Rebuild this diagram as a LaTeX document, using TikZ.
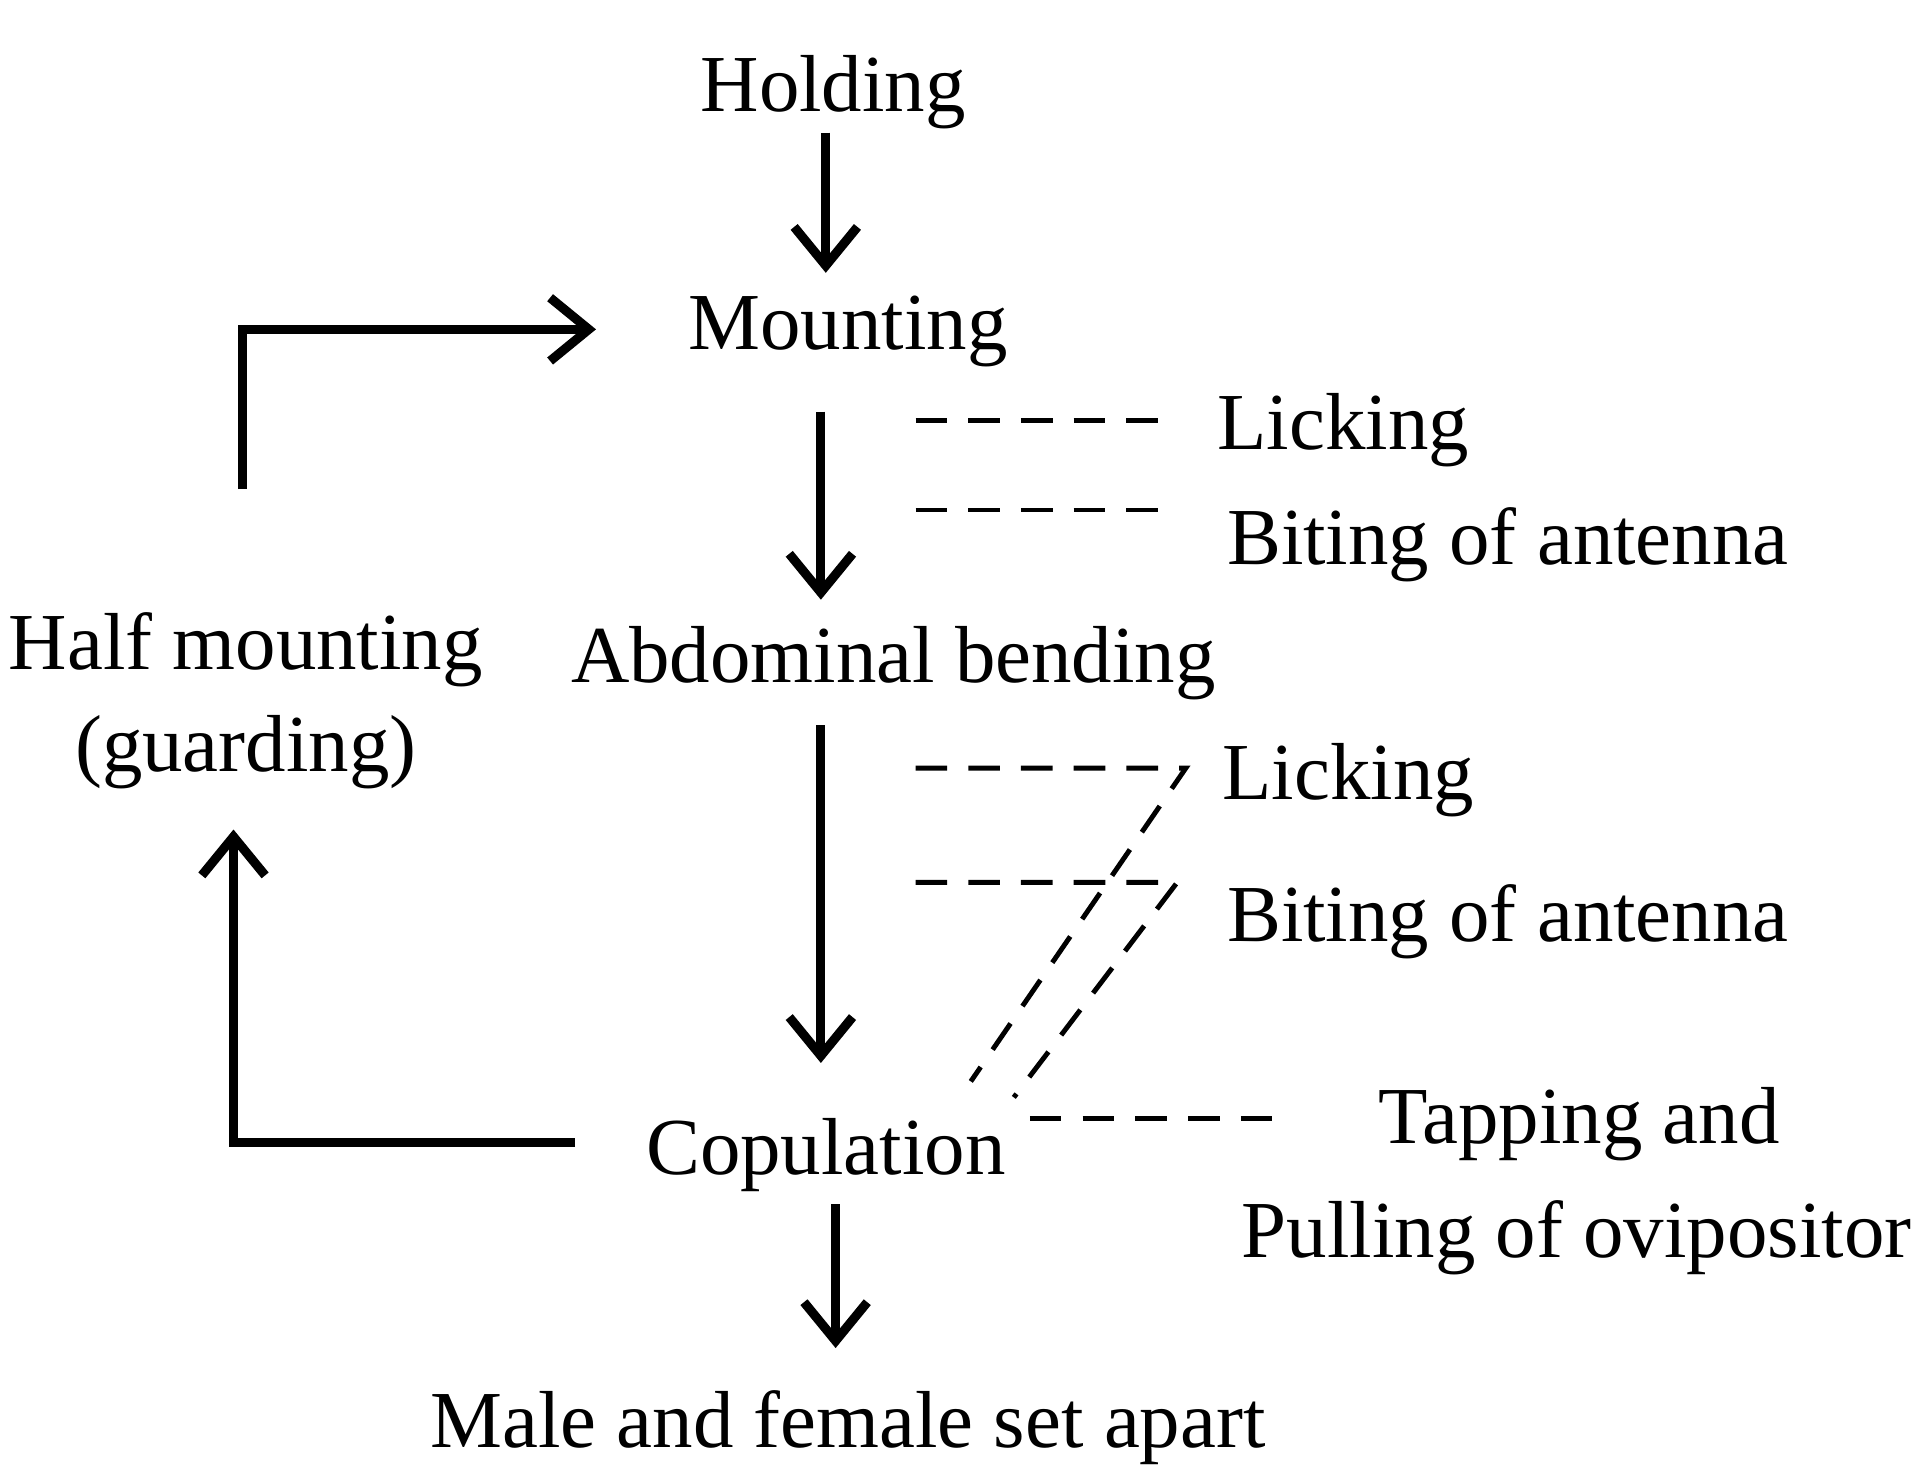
\documentclass[tikz,border=0pt]{standalone}
\usepackage{fontspec}
\setmainfont{Liberation Serif}
\usetikzlibrary{arrows.meta}

\begin{document}
\begin{tikzpicture}
  [x=0.01229cm,y=-0.01229cm,every node/.style={inner sep=1pt,align=center,font=\fontsize{23}{29}\selectfont},
   flow/.style={line width=2.6pt,-{Straight Barb[length=11pt,width=18pt,line width=2.6pt]}},
   side/.style={line width=1.4pt,dash pattern=on 9pt off 6pt}]
  \useasboundingbox (0,0) rectangle (1560,1201);
  \node (n1) at (678,75) {Holding};
  \node (n2) at (690,270) {Mounting};
  \node (n3) at (727,540) {Abdominal bending};
  \node (n4) at (672,940) {Copulation};
  \node (n5) at (690,1162) {Male and female set apart};
  \node (n6) at (200,570) {Half mounting\\(guarding)};
  \node (l1) at (1093,350) {Licking};
  \node (b1) at (1227,443) {Biting of antenna};
  \node (l2) at (1097,635) {Licking};
  \node (b2) at (1227,750) {Biting of antenna};
  \node (t1) at (1285,915) {Tapping and};
  \node (t2) at (1283,1007) {Pulling of ovipositor};
  \coordinate (c1) at (190,930);
  \coordinate (c2) at (197,268);
  \draw [flow] (672,108) -- (672,222);
  \draw [flow] (668,335) -- (668,488);
  \draw [flow] (668,590) -- (668,865);
  \draw [flow] (680,980) -- (680,1097);
  \draw [flow] (468,930) -- (c1) -- (190,675);
  \draw [flow] (197,398) -- (c2) -- (485,268);
  \draw [side] (745,342) -- (958,342);
  \draw [side] (745,415) -- (958,415);
  \draw [side] (745,625) -- (965,625) -- (790,880);
  \draw [side] (745,718) -- (958,718) -- (825,893);
  \draw [side] (838,910) -- (1035,910);
\end{tikzpicture}
\end{document}
